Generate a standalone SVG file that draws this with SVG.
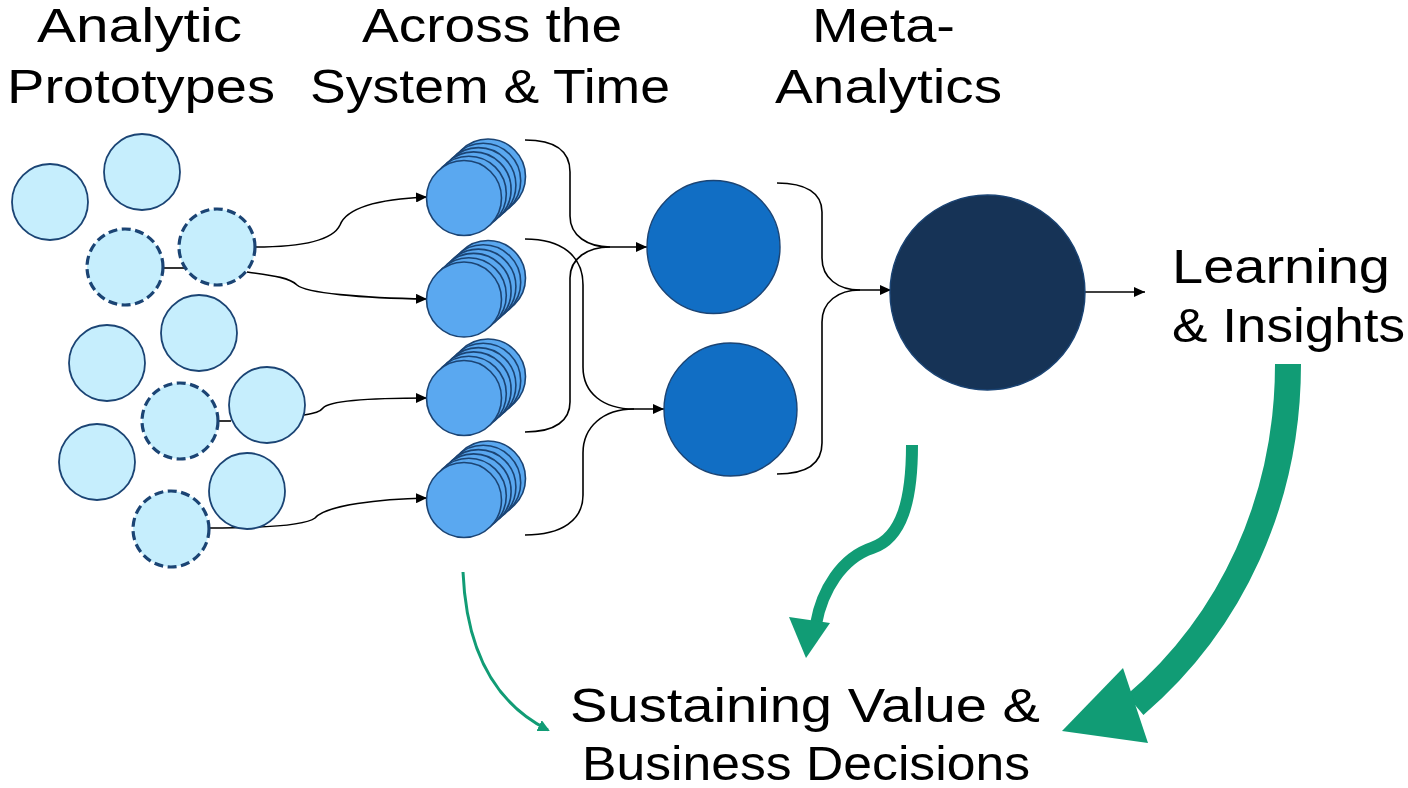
<svg xmlns="http://www.w3.org/2000/svg" width="1408" height="788" viewBox="0 0 1408 788">
  <style>
    .lbl { font-family: "Liberation Sans", Arial, sans-serif; font-size: 48px; fill: #000; }
    .proto { fill: #C6EEFD; stroke: #1B4474; stroke-width: 1.8; }
    .proto-dash { fill: #C6EEFD; stroke: #1B4474; stroke-width: 3.2; stroke-dasharray: 9 4.5; }
    .stack { fill: #5AA8F0; stroke: #1B4474; stroke-width: 1.6; }
    .meta { fill: #116EC4; stroke: #1B4474; stroke-width: 1.4; }
    .core { fill: #163356; stroke: #1B4474; stroke-width: 1.4; }
    .edge { fill: none; stroke: #000; stroke-width: 1.6; }
    .green { fill: none; stroke: #119C75; }
    .green-head { fill: #119C75; }
  </style>
  <defs>
    <marker id="arrow" markerUnits="userSpaceOnUse" markerWidth="12" markerHeight="10" refX="11" refY="5" orient="auto">
      <path d="M0,0 L11,5 L0,10 z" fill="#000"/>
    </marker>
    <marker id="arrow-green" markerUnits="userSpaceOnUse" markerWidth="12" markerHeight="12" refX="10" refY="6" orient="auto">
      <path d="M0,0 L12,6 L0,12 z" fill="#119C75"/>
    </marker>
  </defs>

  <!-- Column headings -->
  <g id="heading-prototypes">
    <text class="lbl" x="37" y="42" textLength="205" lengthAdjust="spacingAndGlyphs">Analytic</text>
    <text class="lbl" x="7" y="103" textLength="268" lengthAdjust="spacingAndGlyphs">Prototypes</text>
  </g>
  <g id="heading-system">
    <text class="lbl" x="362" y="42" textLength="260" lengthAdjust="spacingAndGlyphs">Across the</text>
    <text class="lbl" x="310" y="103" textLength="360" lengthAdjust="spacingAndGlyphs">System &amp; Time</text>
  </g>
  <g id="heading-meta">
    <text class="lbl" x="812" y="42" textLength="143" lengthAdjust="spacingAndGlyphs">Meta-</text>
    <text class="lbl" x="775" y="103" textLength="227" lengthAdjust="spacingAndGlyphs">Analytics</text>
  </g>

  <!-- Connectors -->
  <g id="connectors">
    <path class="edge" d="M163,268 L188,268"/>
    <path class="edge" d="M218,421 L231,421"/>
    <path class="edge" marker-end="url(#arrow)" d="M255,247 C310,247 334,238 340,225 C347,207 380,199 427,197"/>
    <path class="edge" marker-end="url(#arrow)" d="M247,272 C276,276 290,278 297,285 C306,293 360,298 427,299"/>
    <path class="edge" marker-end="url(#arrow)" d="M304,415 C315,413 320,412 323,408 C330,400 380,398 427,398"/>
    <path class="edge" marker-end="url(#arrow)" d="M209,528 C262,528 305,526 315,518 C326,505 380,499 427,498"/>

    <path class="edge" marker-end="url(#arrow)" d="M525,140 C556,140 570,152 570,172 L570,216 C570,236 588,247 610,247 L647,247"/>
    <path class="edge" d="M525,432 C556,432 570,420 570,402 L570,278 C570,258 588,247 610,247"/>
    <path class="edge" marker-end="url(#arrow)" d="M525,239 C562,239 583,256 583,285 L583,367 C583,393 603,409 634,409 L664,409"/>
    <path class="edge" d="M525,535 C562,535 583,520 583,495 L583,453 C583,427 603,409 634,409"/>

    <path class="edge" marker-end="url(#arrow)" d="M777,183 C806,183 822,193 822,212 L822,258 C822,278 838,290 860,290 L891,290"/>
    <path class="edge" d="M777,474 C806,474 822,464 822,443 L822,322 C822,302 838,290 860,290"/>

    <path class="edge" marker-end="url(#arrow)" d="M1085,292 L1145,292"/>

    <!-- green feedback arrows -->
    <path class="green" stroke-width="3" marker-end="url(#arrow-green)" d="M463,572 Q468,690 548,730"/>
    <path class="green" stroke-width="12" d="M912,445 C912,500 902,538 872,548 C842,558 822,590 816,624"/>
    <path class="green-head" d="M789,617 L830,623 L806,658 z"/>
    <path class="green" stroke-width="26" d="M1288,364 C1288,500 1232,622 1135,705"/>
    <path class="green-head" d="M1123,668 L1062,731 L1148,743 z"/>
  </g>

  <!-- Analytic prototypes -->
  <g id="prototypes">
    <circle class="proto" cx="50" cy="202" r="38"/>
    <circle class="proto" cx="142" cy="172" r="38"/>
    <circle class="proto-dash" cx="125" cy="267" r="38"/>
    <circle class="proto-dash" cx="217" cy="247" r="38"/>
    <circle class="proto" cx="199" cy="333" r="38"/>
    <circle class="proto" cx="107" cy="363" r="38"/>
    <circle class="proto-dash" cx="180" cy="421" r="38"/>
    <circle class="proto" cx="267" cy="405" r="38"/>
    <circle class="proto" cx="97" cy="462" r="38"/>
    <circle class="proto" cx="247" cy="491" r="38"/>
    <circle class="proto-dash" cx="171" cy="529" r="38"/>
  </g>

  <!-- Stacks across the system and time -->
  <g id="stack-1">
    <ellipse class="stack" cx="488" cy="176.5" rx="37.5" ry="37.5"/>
    <ellipse class="stack" cx="483.2" cy="180.8" rx="37.5" ry="37.5"/>
    <ellipse class="stack" cx="478.4" cy="185.1" rx="37.5" ry="37.5"/>
    <ellipse class="stack" cx="473.6" cy="189.4" rx="37.5" ry="37.5"/>
    <ellipse class="stack" cx="468.8" cy="193.7" rx="37.5" ry="37.5"/>
    <ellipse class="stack" cx="464" cy="198" rx="37.5" ry="37.5"/>
  </g>
  <g id="stack-2">
    <ellipse class="stack" cx="488" cy="278" rx="37.5" ry="37.5"/>
    <ellipse class="stack" cx="483.2" cy="282.3" rx="37.5" ry="37.5"/>
    <ellipse class="stack" cx="478.4" cy="286.6" rx="37.5" ry="37.5"/>
    <ellipse class="stack" cx="473.6" cy="290.9" rx="37.5" ry="37.5"/>
    <ellipse class="stack" cx="468.8" cy="295.2" rx="37.5" ry="37.5"/>
    <ellipse class="stack" cx="464" cy="299.5" rx="37.5" ry="37.5"/>
  </g>
  <g id="stack-3">
    <ellipse class="stack" cx="488" cy="376.5" rx="37.5" ry="37.5"/>
    <ellipse class="stack" cx="483.2" cy="380.8" rx="37.5" ry="37.5"/>
    <ellipse class="stack" cx="478.4" cy="385.1" rx="37.5" ry="37.5"/>
    <ellipse class="stack" cx="473.6" cy="389.4" rx="37.5" ry="37.5"/>
    <ellipse class="stack" cx="468.8" cy="393.7" rx="37.5" ry="37.5"/>
    <ellipse class="stack" cx="464" cy="398" rx="37.5" ry="37.5"/>
  </g>
  <g id="stack-4">
    <ellipse class="stack" cx="488" cy="478.5" rx="37.5" ry="37.5"/>
    <ellipse class="stack" cx="483.2" cy="482.8" rx="37.5" ry="37.5"/>
    <ellipse class="stack" cx="478.4" cy="487.1" rx="37.5" ry="37.5"/>
    <ellipse class="stack" cx="473.6" cy="491.4" rx="37.5" ry="37.5"/>
    <ellipse class="stack" cx="468.8" cy="495.7" rx="37.5" ry="37.5"/>
    <ellipse class="stack" cx="464" cy="500" rx="37.5" ry="37.5"/>
  </g>

  <!-- Meta-analytics -->
  <g id="meta-1"><circle class="meta" cx="713.5" cy="247" r="66.5"/></g>
  <g id="meta-2"><circle class="meta" cx="730.5" cy="409.5" r="66.5"/></g>
  <g id="core"><circle class="core" cx="987.5" cy="292.5" r="97.5"/></g>

  <!-- Outcomes -->
  <g id="learning">
    <text class="lbl" x="1172" y="283" textLength="218" lengthAdjust="spacingAndGlyphs">Learning</text>
    <text class="lbl" x="1172" y="342" textLength="233" lengthAdjust="spacingAndGlyphs">&amp; Insights</text>
  </g>
  <g id="decisions">
    <text class="lbl" x="570" y="722" textLength="470" lengthAdjust="spacingAndGlyphs">Sustaining Value &amp;</text>
    <text class="lbl" x="582" y="780" textLength="448" lengthAdjust="spacingAndGlyphs">Business Decisions</text>
  </g>
</svg>
